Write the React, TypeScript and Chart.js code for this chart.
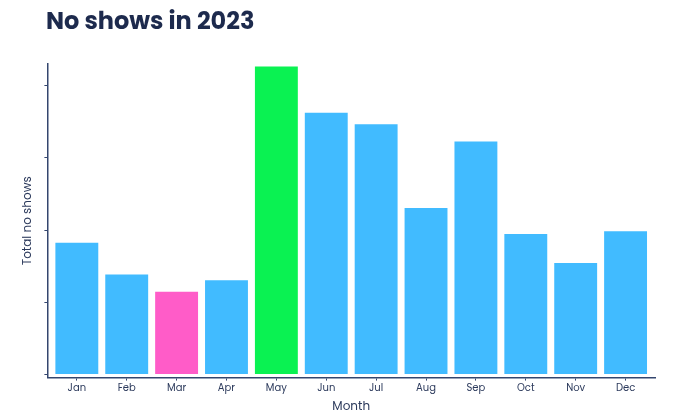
import React, { useEffect, useRef } from "react";
import { Chart, registerables } from "chart.js";

Chart.register(...registerables);

const months = ["Jan", "Feb", "Mar", "Apr", "May", "Jun", "Jul", "Aug", "Sep", "Oct", "Nov", "Dec"];
const noShows = [92, 70, 58, 66, 214, 182, 174, 116, 162, 98, 78, 100];
const barColors = ["#41bbff", "#41bbff", "#ff5cc8", "#41bbff", "#0af252", "#41bbff", "#41bbff", "#41bbff", "#41bbff", "#41bbff", "#41bbff", "#41bbff"];
const yTicks = [0, 50, 100, 150, 200];

const FONT = "Poppins, Inter, 'Noto Sans', sans-serif";
const AXIS = "#34466e";
const TEXT = "#2c3a5c";

export default function App() {
  const ref = useRef<HTMLCanvasElement | null>(null);
  useEffect(() => {
    if (!ref.current) return;
    const chart = new Chart(ref.current, {
      type: "bar",
      data: {
        datasets: [
          {
            label: "No shows",
            data: noShows.map((v, i) => ({ x: i, y: v })),
            backgroundColor: barColors,
            borderColor: "rgba(255,255,255,0.55)",
            borderWidth: 1,
            categoryPercentage: 1,
            barPercentage: 0.9,
          },
        ],
      },
      options: {
        animation: false,
        responsive: false,
        maintainAspectRatio: false,
        layout: { padding: { left: 20, right: 28, top: 64, bottom: -2 } },
        plugins: { legend: { display: false }, tooltip: { enabled: false }, title: { display: false } },
        scales: {
          x: {
            type: "linear",
            offset: false,
            min: -0.59,
            max: 11.59,
            grid: { display: true, offset: false, drawOnChartArea: false, drawTicks: true, tickLength: 3, color: AXIS },
            border: { display: true, color: AXIS, width: 1.5 },
            afterBuildTicks: (axis: any) => {
              axis.ticks = months.map((_, i) => ({ value: i }));
            },
            ticks: {
              autoSkip: false,
              maxRotation: 0,
              padding: 2,
              color: TEXT,
              font: { family: FONT, size: 10 },
              callback: (v: any) => months[v as number] ?? "",
            },
            title: {
              display: true,
              text: "Month",
              color: TEXT,
              font: { family: FONT, size: 12 },
              padding: { top: 3, bottom: 0 },
            },
          },
          y: {
            min: -2.07,
            max: 215,
            grid: { display: true, drawOnChartArea: false, drawTicks: true, tickLength: 3, color: AXIS },
            border: { display: true, color: AXIS, width: 1.5 },
            afterBuildTicks: (axis: any) => {
              axis.ticks = yTicks.map((v) => ({ value: v }));
            },
            ticks: { display: false },
            title: {
              display: true,
              text: "Total no shows",
              color: TEXT,
              font: { family: FONT, size: 12 },
              padding: { top: 1, bottom: 9 },
            },
          },
        },
      },
    });
    return () => chart.destroy();
  }, []);

  return (
    <div style={{ position: "fixed", left: 0, top: 0, width: 683, height: 412, background: "#ffffff" }}>
      <canvas ref={ref} width={683} height={412} style={{ position: "absolute", left: 0, top: 0, width: 683, height: 412 }} />
      <div
        style={{
          position: "absolute",
          left: 46,
          top: 6,
          fontFamily: FONT,
          fontWeight: 700,
          fontSize: 24,
          color: "#1d2a4d",
          whiteSpace: "nowrap",
          lineHeight: "30px",
        }}
      >
        No shows in 2023
      </div>
    </div>
  );
}
